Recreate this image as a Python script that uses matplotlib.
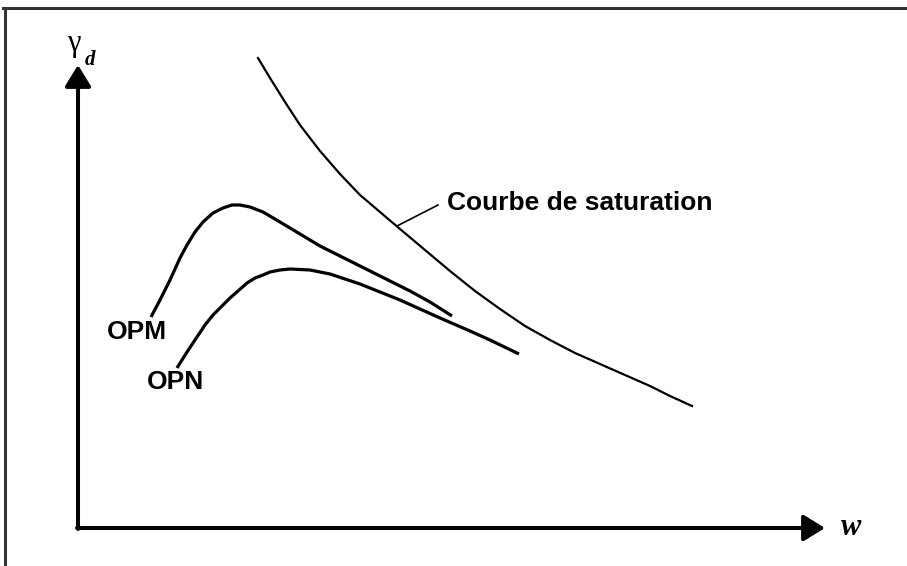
import matplotlib.pyplot as plt
from matplotlib.lines import Line2D

# water content w (x) and dry unit weight gamma_d (y), arbitrary units
sat_w = [180, 192, 207, 222, 242, 262, 282, 302, 322, 347, 372, 397, 422, 447, 472, 497, 522, 547, 572, 592, 614]
sat_g = [470, 450, 426, 403, 377, 354, 333, 316, 299, 278, 257, 237, 219, 202, 188, 175, 164, 153, 142, 132, 122]

opm_w = [73, 82, 92, 102, 109, 117, 125, 135, 145, 154, 162, 172, 185, 202, 222, 242, 272, 302, 332, 352, 374]
opm_g = [211, 228, 248, 270, 283, 296, 306, 315, 320, 323, 323, 321, 316, 306, 294, 282, 267, 252, 237, 226, 212]

opn_w = [99, 109, 119, 127, 135, 144, 152, 160, 169, 177, 185, 192, 202, 212, 232, 252, 282, 322, 362, 392, 412, 441]
opn_g = [160, 176, 191, 203, 213, 222, 230, 237, 245, 250, 253, 256, 258, 259, 258, 254, 244, 228, 210, 197, 188, 174]

fig = plt.figure(figsize=(9.07, 5.66), dpi=100)
ax = fig.add_axes([0, 0, 1, 1])
ax.set_xlim(-78, 829)
ax.set_ylim(-38, 528)
ax.axis('off')

# frame (top and left only)
fig.add_artist(Line2D([3 / 907, 1], [1 - 7.5 / 566] * 2, transform=fig.transFigure,
                      color='#333333', lw=2.2))
fig.add_artist(Line2D([4.5 / 907] * 2, [0, 1 - 7.5 / 566], transform=fig.transFigure,
                      color='#333333', lw=2.2))

# axes with arrows
arrow = dict(arrowstyle='-|>,head_length=1.3,head_width=0.8', lw=2.9, color='k',
             shrinkA=0, shrinkB=0, mutation_scale=10)
ax.annotate('', xy=(747, 0), xytext=(-1, 0), arrowprops=arrow)
ax.annotate('', xy=(0, 463), xytext=(0, -1), arrowprops=arrow)

ax.plot(sat_w, sat_g, color='k', lw=1.6, solid_joinstyle='round')
ax.plot(opm_w, opm_g, color='k', lw=2.3, solid_capstyle='butt', solid_joinstyle='round')
ax.plot(opn_w, opn_g, color='k', lw=2.3, solid_capstyle='butt', solid_joinstyle='round')

ax.plot([319, 360], [302, 323], color='k', lw=1.2)
ax.text(369, 325, 'Courbe de saturation', fontsize=19, fontweight='bold',
        family='Liberation Sans', va='center', ha='left')
ax.text(29, 196, 'OPM', fontsize=19, fontweight='bold', family='Liberation Sans',
        va='center', ha='left')
ax.text(69, 146, 'OPN', fontsize=19, fontweight='bold', family='Liberation Sans',
        va='center', ha='left')

ax.text(-11, 477, 'γ', fontsize=22, family='Liberation Serif', ha='left', va='baseline')
ax.text(7, 463, 'd', fontsize=15, fontweight='bold', style='italic',
        family='Liberation Serif', ha='left', va='baseline')
ax.text(763, -7, 'w', fontsize=22, fontweight='bold', style='italic',
        family='Liberation Serif', ha='left', va='baseline')

fig.savefig('out.png', dpi=100)
